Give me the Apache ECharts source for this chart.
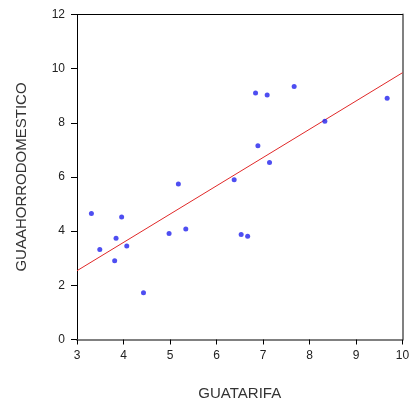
<!DOCTYPE html>
<html>
<head>
<meta charset="utf-8">
<script src="https://cdn.jsdelivr.net/npm/echarts@6/dist/echarts.min.js"></script>
<style>
  html, body { margin: 0; padding: 0; background: #fff; }
  #chart { width: 409px; height: 401px; }
</style>
</head>
<body>
<div id="chart"></div>
<script>
// data
const tarifa = [6.84, 7.09, 7.67, 9.67, 8.33, 6.89, 7.14, 6.38, 5.18, 3.31, 3.96, 4.98, 5.34, 6.53, 6.67, 3.84, 4.07, 3.49, 3.81, 4.43]
const ahorro = [9.10, 9.03, 9.34, 8.91, 8.06, 7.15, 6.54, 5.90, 5.74, 4.65, 4.52, 3.91, 4.08, 3.88, 3.81, 3.74, 3.45, 3.32, 2.91, 1.73]
const fitX = [3, 10]
const fitY = [2.54, 9.85]

const tickFont = { fontFamily: 'Liberation Sans', fontSize: 12, color: '#222' }
const nameFont = { fontFamily: 'Liberation Sans', fontSize: 15, color: '#333' }

const chart = echarts.init(document.getElementById('chart'))

const option = {
  animation: false,
  grid: { left: 77, right: 6.5, top: 14.5, bottom: 61.5, outerBoundsMode: 'none', containLabel: false },
  xAxis: [
    {
      type: 'value', min: 3, max: 10, interval: 1,
      name: 'GUATARIFA', nameLocation: 'middle', nameGap: 47,
      nameTextStyle: nameFont,
      axisLine: { onZero: false, lineStyle: { color: '#808080', width: 2 } },
      axisTick: { show: true, length: 5, lineStyle: { color: '#000' } },
      axisLabel: { ...tickFont, margin: 10 },
      splitLine: { show: false }
    },
    {
      type: 'value', position: 'top', min: 3, max: 10,
      axisLine: { show: true, onZero: false, lineStyle: { color: '#000', width: 1 } },
      axisTick: { show: false }, axisLabel: { show: false }, splitLine: { show: false }
    }
  ],
  yAxis: [
    {
      type: 'value', min: 0, max: 12, interval: 2,
      name: 'GUAAHORRODOMESTICO', nameLocation: 'middle', nameGap: 48, nameRotate: 90,
      nameTextStyle: nameFont,
      axisLine: { show: true, onZero: false, lineStyle: { color: '#000', width: 1 } },
      axisTick: { show: true, length: 6, lineStyle: { color: '#000' } },
      axisLabel: { ...tickFont, margin: 12 },
      splitLine: { show: false }
    },
    {
      type: 'value', position: 'right', min: 0, max: 12,
      axisLine: { show: true, onZero: false, lineStyle: { color: '#808080', width: 2 } },
      axisTick: { show: false }, axisLabel: { show: false }, splitLine: { show: false }
    }
  ],
  series: [
    {
      type: 'line',
      data: fitX.map((x, i) => [x, fitY[i]]),
      symbol: 'none',
      lineStyle: { color: '#e02828', width: 1 },
      z: 2
    },
    {
      type: 'scatter',
      data: tarifa.map((x, i) => [x, ahorro[i]]),
      symbol: 'circle',
      symbolSize: 5,
      itemStyle: { color: '#2222ee' },
      z: 3
    }
  ]
}

option && chart.setOption(option)
</script>
</body>
</html>
